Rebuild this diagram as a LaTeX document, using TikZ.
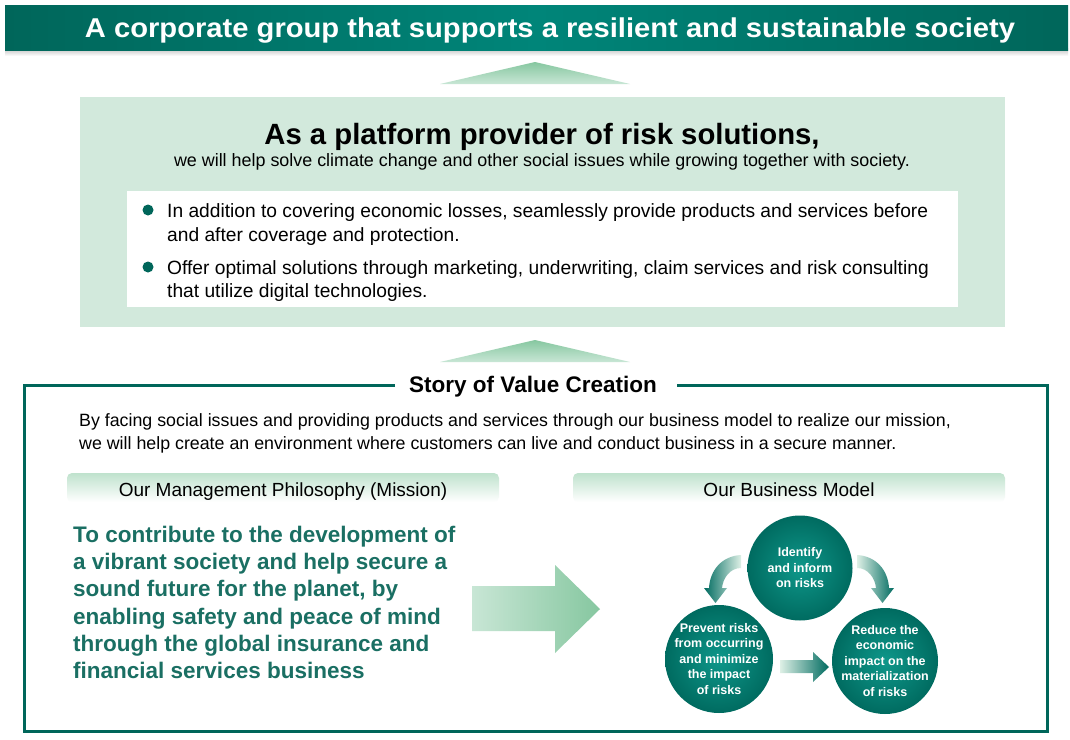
\documentclass[tikz,border=0pt]{standalone}
\usepackage{fontspec}
\setmainfont{Liberation Sans}
\definecolor{teal1}{HTML}{00665A}
\definecolor{teal2}{HTML}{008579}
\definecolor{tealtxt}{HTML}{1A6F63}
\definecolor{panel}{HTML}{D2E9DC}
\definecolor{tri1}{HTML}{86C7A0}
\definecolor{tri2}{HTML}{C8E6D5}
\definecolor{hdr}{HTML}{BFE2CD}
\definecolor{circin}{HTML}{0E978A}
\definecolor{circout}{HTML}{006B60}
\newcommand{\fsz}[2]{\fontsize{#1pt}{#2pt}\selectfont}
\begin{document}
\begin{tikzpicture}[x=1pt,y=-1pt,
  tri/.style={top color=tri1,bottom color=tri2},
  hdrbar/.style={top color=hdr,bottom color=white,rounded corners=5pt},
  riskcirc/.style={circle,minimum size=#1,inner sep=0pt,shading=radial,inner color=circin,outer color=circout},
  circtxt/.style={text=white,font=\bfseries\fsz{12.5}{15.5},align=center},
  bodytxt/.style={font=\fsz{19.2}{24},align=left,anchor=base west,inner sep=0pt},
  paratxt/.style={font=\fsz{17.8}{23},anchor=base west,inner sep=0pt},
  hdrtxt/.style={font=\fsz{19}{22},inner sep=0pt,anchor=base},
  bul/.style={circle,fill=teal1,minimum size=11pt,inner sep=0pt}]
\useasboundingbox (0,0) rectangle (1070,739);
\fill[white] (0,0) rectangle (1070,739);
% banner
\shade[top color=black!25,bottom color=white] (5,48) rectangle (1068,56);
\shade[left color=teal1,right color=teal1,middle color=teal2] (5,5) rectangle (1068,50);
\node[text=white,font=\bfseries,inner sep=0pt,anchor=base] (banner) at (550,37)
  {\resizebox*{930pt}{25.5pt}{\fsz{26}{30}A corporate group that supports a resilient and sustainable society}};
% triangle 1
\shade[tri] (440,84) -- (535,62) -- (630,84) -- cycle;
% panel
\fill[panel] (80,97) rectangle (1005,327);
\node[font=\bfseries\fsz{29.3}{32},inner sep=0pt,anchor=base] (plat) at (542,144) {As a platform provider of risk solutions,};
\node[font=\fsz{17.9}{20},inner sep=0pt,anchor=base] (platsub) at (542,166) {we will help solve climate change and other social issues while growing together with society.};
\fill[white] (127,191) rectangle (958,307);
\node[bul] (b1) at (148,210) {};
\node[bul] (b2) at (148,267) {};
\node[bodytxt] (t1a) at (167,217) {In addition to covering economic losses, seamlessly provide products and services before};
\node[bodytxt] (t1b) at (167,241) {and after coverage and protection.};
\node[bodytxt] (t2a) at (167,274) {Offer optimal solutions through marketing, underwriting, claim services and risk consulting};
\node[bodytxt] (t2b) at (167,297) {that utilize digital technologies.};
% triangle 2
\shade[tri] (440,362) -- (535,340) -- (630,362) -- cycle;
% frame
\node[font=\bfseries\fsz{22.5}{26},inner sep=0pt,anchor=base] (story) at (533,392) {Story of Value Creation};
\draw[teal1,line width=3pt] (395,385) -- (24,385) -- (24,731) -- (1047,731) -- (1047,385) -- (677,385);
\node[paratxt] (para1) at (79,426) {By facing social issues and providing products and services through our business model to realize our mission,};
\node[paratxt] (para2) at (79,449) {we will help create an environment where customers can live and conduct business in a secure manner.};
% header bars
\shade[hdrbar] (67,473) rectangle (499,502);
\shade[hdrbar] (573,473) rectangle (1005,502);
\node[hdrtxt] (h1) at (283,496) {Our Management Philosophy (Mission)};
\node[hdrtxt] (h2) at (789,496) {Our Business Model};
% mission text
\node[text=tealtxt,font=\bfseries\fsz{22.5}{27.2},align=left,anchor=north west,inner sep=0pt] (mission) at (73,526)
  {To contribute to the development of\\
   a vibrant society and help secure a\\
   sound future for the planet, by\\
   enabling safety and peace of mind\\
   through the global insurance and\\
   financial services business};
% big arrow
\shade[left color=tri2,right color=tri1] (472,586) -- (555,586) -- (555,565) -- (600,609) -- (555,653) -- (555,631) -- (472,631) -- cycle;
% curved arrows
\shade[left color=circout,right color=tri2!60!white]
  (741,555) .. controls (722,556) and (710,570) .. (709,588) -- (704,588) -- (715.5,603) -- (727,588) -- (722,588)
  .. controls (723,578) and (730,568) .. (741,568) -- cycle;
\shade[right color=circout,left color=tri2!60!white]
  (857,555) .. controls (876,556) and (888,570) .. (889,588) -- (894,588) -- (882.5,603) -- (871,588) -- (876,588)
  .. controls (875,578) and (868,568) .. (857,568) -- cycle;
% straight small arrow
\shade[left color=tri2!60!white,right color=circout] (780,660) -- (813,660) -- (813,652) -- (829,667) -- (813,682) -- (813,673) -- (780,673) -- cycle;
% circles
\node[riskcirc=105pt] (c1) at (800,568) {};
\node[riskcirc=108pt] (c2) at (719,659) {};
\node[riskcirc=106pt] (c3) at (885,661) {};
\node[circtxt] at (c1) {Identify\\and inform\\on risks};
\node[circtxt] at (c2) {Prevent risks\\from occurring\\and minimize\\the impact\\of risks};
\node[circtxt] at (c3.center) {Reduce the\\economic\\impact on the\\materialization\\of risks};
\end{tikzpicture}
\end{document}
